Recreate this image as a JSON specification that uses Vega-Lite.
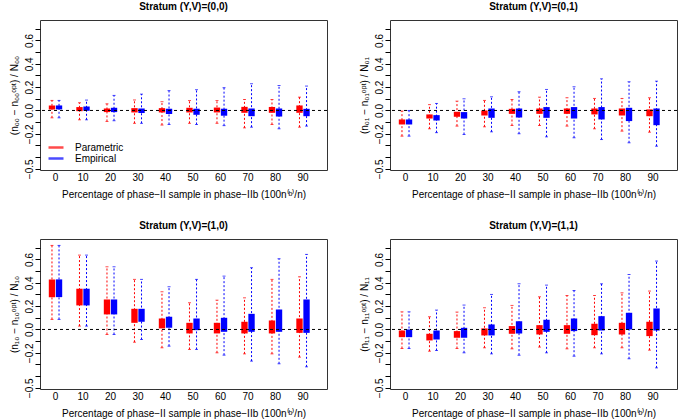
{
"$schema":"https://vega.github.io/schema/vega-lite/v6.json",
"padding":{"left":8,"top":1,"right":0,"bottom":0},
"config":{"font":"Liberation Sans","view":{"stroke":"#333","strokeWidth":1},
 "axis":{"grid":false,"labelColor":"black","titleColor":"black","labelFontSize":10,"titleFontSize":10,"titleFontWeight":"normal","tickColor":"black","domain":false},
 "axisX":{"labelAngle":0,"ticks":false,"labelPadding":2,"titlePadding":7,"labelBaseline":"top"},
 "title":{"fontSize":10,"fontWeight":"bold","offset":8,"color":"black"},
 "legend":{"labelFontSize":10,"labelColor":"black"}},
"resolve":{"scale":{"color":"independent"},"legend":{"color":"independent"}},
"datasets":{"box":[
{"p":"00","pct":0,"method":"Parametric","lo":-0.063,"q1":0.009,"q3":0.043,"hi":0.086},
{"p":"00","pct":0,"method":"Empirical","lo":-0.063,"q1":0.009,"q3":0.043,"hi":0.086},
{"p":"00","pct":10,"method":"Parametric","lo":-0.08,"q1":-0.006,"q3":0.029,"hi":0.066},
{"p":"00","pct":10,"method":"Empirical","lo":-0.08,"q1":-0.003,"q3":0.034,"hi":0.089},
{"p":"00","pct":20,"method":"Parametric","lo":-0.094,"q1":-0.014,"q3":0.017,"hi":0.057},
{"p":"00","pct":20,"method":"Empirical","lo":-0.088,"q1":-0.014,"q3":0.023,"hi":0.129},
{"p":"00","pct":30,"method":"Parametric","lo":-0.11,"q1":-0.017,"q3":0.02,"hi":0.09},
{"p":"00","pct":30,"method":"Empirical","lo":-0.11,"q1":-0.022,"q3":0.017,"hi":0.14},
{"p":"00","pct":40,"method":"Parametric","lo":-0.125,"q1":-0.017,"q3":0.02,"hi":0.075},
{"p":"00","pct":40,"method":"Empirical","lo":-0.12,"q1":-0.03,"q3":0.015,"hi":0.17},
{"p":"00","pct":50,"method":"Parametric","lo":-0.11,"q1":-0.017,"q3":0.023,"hi":0.085},
{"p":"00","pct":50,"method":"Empirical","lo":-0.12,"q1":-0.037,"q3":0.015,"hi":0.178},
{"p":"00","pct":60,"method":"Parametric","lo":-0.11,"q1":-0.017,"q3":0.025,"hi":0.085},
{"p":"00","pct":60,"method":"Empirical","lo":-0.13,"q1":-0.045,"q3":0.015,"hi":0.195},
{"p":"00","pct":70,"method":"Parametric","lo":-0.149,"q1":-0.02,"q3":0.031,"hi":0.094},
{"p":"00","pct":70,"method":"Empirical","lo":-0.143,"q1":-0.049,"q3":0.017,"hi":0.229},
{"p":"00","pct":80,"method":"Parametric","lo":-0.12,"q1":-0.02,"q3":0.03,"hi":0.094},
{"p":"00","pct":80,"method":"Empirical","lo":-0.157,"q1":-0.052,"q3":0.017,"hi":0.214},
{"p":"00","pct":90,"method":"Parametric","lo":-0.143,"q1":-0.02,"q3":0.043,"hi":0.114},
{"p":"00","pct":90,"method":"Empirical","lo":-0.134,"q1":-0.049,"q3":0.014,"hi":0.209},
{"p":"01","pct":0,"method":"Parametric","lo":-0.22,"q1":-0.12,"q3":-0.077,"hi":-0.005},
{"p":"01","pct":0,"method":"Empirical","lo":-0.22,"q1":-0.12,"q3":-0.077,"hi":0},
{"p":"01","pct":10,"method":"Parametric","lo":-0.157,"q1":-0.069,"q3":-0.034,"hi":0.05},
{"p":"01","pct":10,"method":"Empirical","lo":-0.19,"q1":-0.086,"q3":-0.04,"hi":0.06},
{"p":"01","pct":20,"method":"Parametric","lo":-0.134,"q1":-0.054,"q3":-0.011,"hi":0.08},
{"p":"01","pct":20,"method":"Empirical","lo":-0.206,"q1":-0.069,"q3":-0.014,"hi":0.1},
{"p":"01","pct":30,"method":"Parametric","lo":-0.14,"q1":-0.043,"q3":0,"hi":0.086},
{"p":"01","pct":30,"method":"Empirical","lo":-0.183,"q1":-0.063,"q3":0.017,"hi":0.117},
{"p":"01","pct":40,"method":"Parametric","lo":-0.129,"q1":-0.029,"q3":0.014,"hi":0.094},
{"p":"01","pct":40,"method":"Empirical","lo":-0.2,"q1":-0.06,"q3":0.017,"hi":0.16},
{"p":"01","pct":50,"method":"Parametric","lo":-0.129,"q1":-0.029,"q3":0.017,"hi":0.114},
{"p":"01","pct":50,"method":"Empirical","lo":-0.226,"q1":-0.063,"q3":0.029,"hi":0.18},
{"p":"01","pct":60,"method":"Parametric","lo":-0.134,"q1":-0.029,"q3":0.017,"hi":0.109},
{"p":"01","pct":60,"method":"Empirical","lo":-0.234,"q1":-0.069,"q3":0.029,"hi":0.203},
{"p":"01","pct":70,"method":"Parametric","lo":-0.157,"q1":-0.034,"q3":0.017,"hi":0.103},
{"p":"01","pct":70,"method":"Empirical","lo":-0.249,"q1":-0.077,"q3":0.029,"hi":0.271},
{"p":"01","pct":80,"method":"Parametric","lo":-0.177,"q1":-0.043,"q3":0.017,"hi":0.103},
{"p":"01","pct":80,"method":"Empirical","lo":-0.277,"q1":-0.091,"q3":0.023,"hi":0.246},
{"p":"01","pct":90,"method":"Parametric","lo":-0.186,"q1":-0.049,"q3":0.009,"hi":0.109},
{"p":"01","pct":90,"method":"Empirical","lo":-0.306,"q1":-0.126,"q3":0.017,"hi":0.251},
{"p":"10","pct":0,"method":"Parametric","lo":0.086,"q1":0.277,"q3":0.429,"hi":0.72},
{"p":"10","pct":0,"method":"Empirical","lo":0.086,"q1":0.277,"q3":0.429,"hi":0.72},
{"p":"10","pct":10,"method":"Parametric","lo":0.029,"q1":0.206,"q3":0.349,"hi":0.637},
{"p":"10","pct":10,"method":"Empirical","lo":0.029,"q1":0.206,"q3":0.349,"hi":0.637},
{"p":"10","pct":20,"method":"Parametric","lo":-0.043,"q1":0.129,"q3":0.257,"hi":0.537},
{"p":"10","pct":20,"method":"Empirical","lo":-0.043,"q1":0.129,"q3":0.257,"hi":0.537},
{"p":"10","pct":30,"method":"Parametric","lo":-0.109,"q1":0.057,"q3":0.177,"hi":0.429},
{"p":"10","pct":30,"method":"Empirical","lo":-0.086,"q1":0.066,"q3":0.177,"hi":0.429},
{"p":"10","pct":40,"method":"Parametric","lo":-0.157,"q1":0.009,"q3":0.094,"hi":0.323},
{"p":"10","pct":40,"method":"Empirical","lo":-0.143,"q1":0.014,"q3":0.109,"hi":0.366},
{"p":"10","pct":50,"method":"Parametric","lo":-0.171,"q1":-0.034,"q3":0.057,"hi":0.229},
{"p":"10","pct":50,"method":"Empirical","lo":-0.171,"q1":-0.006,"q3":0.094,"hi":0.429},
{"p":"10","pct":60,"method":"Parametric","lo":-0.2,"q1":-0.034,"q3":0.057,"hi":0.251},
{"p":"10","pct":60,"method":"Empirical","lo":-0.22,"q1":-0.02,"q3":0.1,"hi":0.457},
{"p":"10","pct":70,"method":"Parametric","lo":-0.209,"q1":-0.034,"q3":0.066,"hi":0.271},
{"p":"10","pct":70,"method":"Empirical","lo":-0.271,"q1":-0.02,"q3":0.134,"hi":0.529},
{"p":"10","pct":80,"method":"Parametric","lo":-0.209,"q1":-0.034,"q3":0.077,"hi":0.429},
{"p":"10","pct":80,"method":"Empirical","lo":-0.294,"q1":-0.02,"q3":0.171,"hi":0.606},
{"p":"10","pct":90,"method":"Parametric","lo":-0.237,"q1":-0.029,"q3":0.094,"hi":0.451},
{"p":"10","pct":90,"method":"Empirical","lo":-0.32,"q1":-0.029,"q3":0.257,"hi":0.643},
{"p":"11","pct":0,"method":"Parametric","lo":-0.163,"q1":-0.066,"q3":-0.009,"hi":0.151},
{"p":"11","pct":0,"method":"Empirical","lo":-0.163,"q1":-0.066,"q3":0,"hi":0.151},
{"p":"11","pct":10,"method":"Parametric","lo":-0.186,"q1":-0.094,"q3":-0.037,"hi":0.109},
{"p":"11","pct":10,"method":"Empirical","lo":-0.18,"q1":-0.086,"q3":-0.009,"hi":0.166},
{"p":"11","pct":20,"method":"Parametric","lo":-0.163,"q1":-0.071,"q3":-0.014,"hi":0.149},
{"p":"11","pct":20,"method":"Empirical","lo":-0.2,"q1":-0.071,"q3":0.014,"hi":0.209},
{"p":"11","pct":30,"method":"Parametric","lo":-0.157,"q1":-0.051,"q3":0.009,"hi":0.186},
{"p":"11","pct":30,"method":"Empirical","lo":-0.209,"q1":-0.051,"q3":0.043,"hi":0.3},
{"p":"11","pct":40,"method":"Parametric","lo":-0.166,"q1":-0.037,"q3":0.029,"hi":0.206},
{"p":"11","pct":40,"method":"Empirical","lo":-0.22,"q1":-0.034,"q3":0.071,"hi":0.391},
{"p":"11","pct":50,"method":"Parametric","lo":-0.151,"q1":-0.043,"q3":0.037,"hi":0.28},
{"p":"11","pct":50,"method":"Empirical","lo":-0.2,"q1":-0.02,"q3":0.083,"hi":0.38},
{"p":"11","pct":60,"method":"Parametric","lo":-0.166,"q1":-0.037,"q3":0.037,"hi":0.291},
{"p":"11","pct":60,"method":"Empirical","lo":-0.229,"q1":-0.014,"q3":0.094,"hi":0.334},
{"p":"11","pct":70,"method":"Parametric","lo":-0.157,"q1":-0.049,"q3":0.049,"hi":0.291},
{"p":"11","pct":70,"method":"Empirical","lo":-0.209,"q1":-0.009,"q3":0.114,"hi":0.391},
{"p":"11","pct":80,"method":"Parametric","lo":-0.157,"q1":-0.043,"q3":0.057,"hi":0.314},
{"p":"11","pct":80,"method":"Empirical","lo":-0.251,"q1":0,"q3":0.143,"hi":0.471},
{"p":"11","pct":90,"method":"Parametric","lo":-0.177,"q1":-0.057,"q3":0.066,"hi":0.329},
{"p":"11","pct":90,"method":"Empirical","lo":-0.329,"q1":-0.009,"q3":0.18,"hi":0.586}
]},
"columns":2,
"spacing":{"row":69,"column":63},
"bounds":"flush",
"concat":[
{"width":287,"height":150,"title":"Stratum (Y,V)=(0,0)","data":{"name":"box"},"transform":[{"filter":"datum.p=='00'"}],
 "layer":[
 {"mark":{"type":"rule","strokeDash":[2,2],"strokeWidth":1},"encoding":{
  "x":{"field":"pct","type":"ordinal","title":"Percentage of phase−II sample in phase−IIb (100n⁽ᵇ⁾/n)","scale":{"paddingInner":0,"paddingOuter":0.218,"align":0.146}},
  "xOffset":{"field":"method","type":"nominal","sort":["Parametric","Empirical"],"scale":{"paddingInner":0.1,"paddingOuter":1.0}},
  "color":{"field":"method","type":"nominal","scale":{"domain":["Parametric","Empirical"],"range":["#ff0000","#0000ff"]},"legend":{"title":null,"orient":"none","legendX":7,"legendY":122,"symbolType":"stroke","symbolSize":225,"symbolStrokeWidth":2.5,"labelOffset":10,"rowPadding":0,"clipHeight":11}},
  "y":{"field":"lo","type":"quantitative","title":"(n₀₀ − n₀₀ᵒᵖᵗ) / N₀₀","scale":{"domain":[-0.51,0.775],"nice":false,"zero":false},
   "axis":{"values":[-0.5,-0.4,-0.3,-0.2,-0.1,0,0.1,0.2,0.3,0.4,0.5,0.6,0.7],"labelExpr":"indexof([-5,-2,0,2,4,6], round(datum.value*10)) >= 0 ? datum.label : ''","format":".1f","labelAngle":270,"labelAlign":"center","labelBaseline":"alphabetic","tickSize":5,"labelPadding":3,"titlePadding":5,"labelOverlap":false,"labelBound":false,"labelFlush":false}},"y2":{"field":"hi"}}},
 {"mark":{"type":"bar"},"encoding":{
  "x":{"field":"pct","type":"ordinal"},"xOffset":{"field":"method","type":"nominal","sort":["Parametric","Empirical"]},"color":{"field":"method","type":"nominal"},
  "y":{"field":"q1","type":"quantitative","title":"(n₀₀ − n₀₀ᵒᵖᵗ) / N₀₀",
   "axis":{"values":[-0.5,-0.4,-0.3,-0.2,-0.1,0,0.1,0.2,0.3,0.4,0.5,0.6,0.7],"labelExpr":"indexof([-5,-2,0,2,4,6], round(datum.value*10)) >= 0 ? datum.label : ''","format":".1f","labelAngle":270,"labelAlign":"center","labelBaseline":"alphabetic","tickSize":5,"labelPadding":3,"titlePadding":5,"labelOverlap":false,"labelBound":false,"labelFlush":false}},"y2":{"field":"q3"}}},
 {"mark":{"type":"tick","size":3,"thickness":1},"encoding":{
  "x":{"field":"pct","type":"ordinal"},"xOffset":{"field":"method","type":"nominal","sort":["Parametric","Empirical"]},"color":{"field":"method","type":"nominal"},
  "y":{"field":"hi","type":"quantitative","title":"(n₀₀ − n₀₀ᵒᵖᵗ) / N₀₀",
   "axis":{"values":[-0.5,-0.4,-0.3,-0.2,-0.1,0,0.1,0.2,0.3,0.4,0.5,0.6,0.7],"labelExpr":"indexof([-5,-2,0,2,4,6], round(datum.value*10)) >= 0 ? datum.label : ''","format":".1f","labelAngle":270,"labelAlign":"center","labelBaseline":"alphabetic","tickSize":5,"labelPadding":3,"titlePadding":5,"labelOverlap":false,"labelBound":false,"labelFlush":false}}}},
 {"mark":{"type":"tick","size":3,"thickness":1},"encoding":{
  "x":{"field":"pct","type":"ordinal"},"xOffset":{"field":"method","type":"nominal","sort":["Parametric","Empirical"]},"color":{"field":"method","type":"nominal"},
  "y":{"field":"lo","type":"quantitative","title":"(n₀₀ − n₀₀ᵒᵖᵗ) / N₀₀",
   "axis":{"values":[-0.5,-0.4,-0.3,-0.2,-0.1,0,0.1,0.2,0.3,0.4,0.5,0.6,0.7],"labelExpr":"indexof([-5,-2,0,2,4,6], round(datum.value*10)) >= 0 ? datum.label : ''","format":".1f","labelAngle":270,"labelAlign":"center","labelBaseline":"alphabetic","tickSize":5,"labelPadding":3,"titlePadding":5,"labelOverlap":false,"labelBound":false,"labelFlush":false}}}},
 {"data":{"values":[{"ref":0}]},"mark":{"type":"rule","strokeDash":[3,3],"color":"black","strokeWidth":1},"encoding":{"y":{"field":"ref","type":"quantitative","title":"(n₀₀ − n₀₀ᵒᵖᵗ) / N₀₀",
   "axis":{"values":[-0.5,-0.4,-0.3,-0.2,-0.1,0,0.1,0.2,0.3,0.4,0.5,0.6,0.7],"labelExpr":"indexof([-5,-2,0,2,4,6], round(datum.value*10)) >= 0 ? datum.label : ''","format":".1f","labelAngle":270,"labelAlign":"center","labelBaseline":"alphabetic","tickSize":5,"labelPadding":3,"titlePadding":5,"labelOverlap":false,"labelBound":false,"labelFlush":false}}}}
 ]},
{"width":287,"height":150,"title":"Stratum (Y,V)=(0,1)","data":{"name":"box"},"transform":[{"filter":"datum.p=='01'"}],
 "layer":[
 {"mark":{"type":"rule","strokeDash":[2,2],"strokeWidth":1},"encoding":{
  "x":{"field":"pct","type":"ordinal","title":"Percentage of phase−II sample in phase−IIb (100n⁽ᵇ⁾/n)","scale":{"paddingInner":0,"paddingOuter":0.218,"align":0.146}},
  "xOffset":{"field":"method","type":"nominal","sort":["Parametric","Empirical"],"scale":{"paddingInner":0.1,"paddingOuter":1.0}},
  "color":{"field":"method","type":"nominal","scale":{"domain":["Parametric","Empirical"],"range":["#ff0000","#0000ff"]},"legend":null},
  "y":{"field":"lo","type":"quantitative","title":"(n₀₁ − n₀₁ᵒᵖᵗ) / N₀₁","scale":{"domain":[-0.51,0.775],"nice":false,"zero":false},
   "axis":{"values":[-0.5,-0.4,-0.3,-0.2,-0.1,0,0.1,0.2,0.3,0.4,0.5,0.6,0.7],"labelExpr":"indexof([-5,-2,0,2,4,6], round(datum.value*10)) >= 0 ? datum.label : ''","format":".1f","labelAngle":270,"labelAlign":"center","labelBaseline":"alphabetic","tickSize":5,"labelPadding":3,"titlePadding":5,"labelOverlap":false,"labelBound":false,"labelFlush":false}},"y2":{"field":"hi"}}},
 {"mark":{"type":"bar"},"encoding":{
  "x":{"field":"pct","type":"ordinal"},"xOffset":{"field":"method","type":"nominal","sort":["Parametric","Empirical"]},"color":{"field":"method","type":"nominal","legend":null},
  "y":{"field":"q1","type":"quantitative","title":"(n₀₁ − n₀₁ᵒᵖᵗ) / N₀₁",
   "axis":{"values":[-0.5,-0.4,-0.3,-0.2,-0.1,0,0.1,0.2,0.3,0.4,0.5,0.6,0.7],"labelExpr":"indexof([-5,-2,0,2,4,6], round(datum.value*10)) >= 0 ? datum.label : ''","format":".1f","labelAngle":270,"labelAlign":"center","labelBaseline":"alphabetic","tickSize":5,"labelPadding":3,"titlePadding":5,"labelOverlap":false,"labelBound":false,"labelFlush":false}},"y2":{"field":"q3"}}},
 {"mark":{"type":"tick","size":3,"thickness":1},"encoding":{
  "x":{"field":"pct","type":"ordinal"},"xOffset":{"field":"method","type":"nominal","sort":["Parametric","Empirical"]},"color":{"field":"method","type":"nominal","legend":null},
  "y":{"field":"hi","type":"quantitative","title":"(n₀₁ − n₀₁ᵒᵖᵗ) / N₀₁",
   "axis":{"values":[-0.5,-0.4,-0.3,-0.2,-0.1,0,0.1,0.2,0.3,0.4,0.5,0.6,0.7],"labelExpr":"indexof([-5,-2,0,2,4,6], round(datum.value*10)) >= 0 ? datum.label : ''","format":".1f","labelAngle":270,"labelAlign":"center","labelBaseline":"alphabetic","tickSize":5,"labelPadding":3,"titlePadding":5,"labelOverlap":false,"labelBound":false,"labelFlush":false}}}},
 {"mark":{"type":"tick","size":3,"thickness":1},"encoding":{
  "x":{"field":"pct","type":"ordinal"},"xOffset":{"field":"method","type":"nominal","sort":["Parametric","Empirical"]},"color":{"field":"method","type":"nominal","legend":null},
  "y":{"field":"lo","type":"quantitative","title":"(n₀₁ − n₀₁ᵒᵖᵗ) / N₀₁",
   "axis":{"values":[-0.5,-0.4,-0.3,-0.2,-0.1,0,0.1,0.2,0.3,0.4,0.5,0.6,0.7],"labelExpr":"indexof([-5,-2,0,2,4,6], round(datum.value*10)) >= 0 ? datum.label : ''","format":".1f","labelAngle":270,"labelAlign":"center","labelBaseline":"alphabetic","tickSize":5,"labelPadding":3,"titlePadding":5,"labelOverlap":false,"labelBound":false,"labelFlush":false}}}},
 {"data":{"values":[{"ref":0}]},"mark":{"type":"rule","strokeDash":[3,3],"color":"black","strokeWidth":1},"encoding":{"y":{"field":"ref","type":"quantitative","title":"(n₀₁ − n₀₁ᵒᵖᵗ) / N₀₁",
   "axis":{"values":[-0.5,-0.4,-0.3,-0.2,-0.1,0,0.1,0.2,0.3,0.4,0.5,0.6,0.7],"labelExpr":"indexof([-5,-2,0,2,4,6], round(datum.value*10)) >= 0 ? datum.label : ''","format":".1f","labelAngle":270,"labelAlign":"center","labelBaseline":"alphabetic","tickSize":5,"labelPadding":3,"titlePadding":5,"labelOverlap":false,"labelBound":false,"labelFlush":false}}}}
 ]},
{"width":287,"height":150,"title":"Stratum (Y,V)=(1,0)","data":{"name":"box"},"transform":[{"filter":"datum.p=='10'"}],
 "layer":[
 {"mark":{"type":"rule","strokeDash":[2,2],"strokeWidth":1},"encoding":{
  "x":{"field":"pct","type":"ordinal","title":"Percentage of phase−II sample in phase−IIb (100n⁽ᵇ⁾/n)","scale":{"paddingInner":0,"paddingOuter":0.218,"align":0.146}},
  "xOffset":{"field":"method","type":"nominal","sort":["Parametric","Empirical"],"scale":{"paddingInner":0.1,"paddingOuter":1.0}},
  "color":{"field":"method","type":"nominal","scale":{"domain":["Parametric","Empirical"],"range":["#ff0000","#0000ff"]},"legend":null},
  "y":{"field":"lo","type":"quantitative","title":"(n₁₀ − n₁₀ᵒᵖᵗ) / N₁₀","scale":{"domain":[-0.51,0.775],"nice":false,"zero":false},
   "axis":{"values":[-0.5,-0.4,-0.3,-0.2,-0.1,0,0.1,0.2,0.3,0.4,0.5,0.6,0.7],"labelExpr":"indexof([-5,-2,0,2,4,6], round(datum.value*10)) >= 0 ? datum.label : ''","format":".1f","labelAngle":270,"labelAlign":"center","labelBaseline":"alphabetic","tickSize":5,"labelPadding":3,"titlePadding":5,"labelOverlap":false,"labelBound":false,"labelFlush":false}},"y2":{"field":"hi"}}},
 {"mark":{"type":"bar"},"encoding":{
  "x":{"field":"pct","type":"ordinal"},"xOffset":{"field":"method","type":"nominal","sort":["Parametric","Empirical"]},"color":{"field":"method","type":"nominal","legend":null},
  "y":{"field":"q1","type":"quantitative","title":"(n₁₀ − n₁₀ᵒᵖᵗ) / N₁₀",
   "axis":{"values":[-0.5,-0.4,-0.3,-0.2,-0.1,0,0.1,0.2,0.3,0.4,0.5,0.6,0.7],"labelExpr":"indexof([-5,-2,0,2,4,6], round(datum.value*10)) >= 0 ? datum.label : ''","format":".1f","labelAngle":270,"labelAlign":"center","labelBaseline":"alphabetic","tickSize":5,"labelPadding":3,"titlePadding":5,"labelOverlap":false,"labelBound":false,"labelFlush":false}},"y2":{"field":"q3"}}},
 {"mark":{"type":"tick","size":3,"thickness":1},"encoding":{
  "x":{"field":"pct","type":"ordinal"},"xOffset":{"field":"method","type":"nominal","sort":["Parametric","Empirical"]},"color":{"field":"method","type":"nominal","legend":null},
  "y":{"field":"hi","type":"quantitative","title":"(n₁₀ − n₁₀ᵒᵖᵗ) / N₁₀",
   "axis":{"values":[-0.5,-0.4,-0.3,-0.2,-0.1,0,0.1,0.2,0.3,0.4,0.5,0.6,0.7],"labelExpr":"indexof([-5,-2,0,2,4,6], round(datum.value*10)) >= 0 ? datum.label : ''","format":".1f","labelAngle":270,"labelAlign":"center","labelBaseline":"alphabetic","tickSize":5,"labelPadding":3,"titlePadding":5,"labelOverlap":false,"labelBound":false,"labelFlush":false}}}},
 {"mark":{"type":"tick","size":3,"thickness":1},"encoding":{
  "x":{"field":"pct","type":"ordinal"},"xOffset":{"field":"method","type":"nominal","sort":["Parametric","Empirical"]},"color":{"field":"method","type":"nominal","legend":null},
  "y":{"field":"lo","type":"quantitative","title":"(n₁₀ − n₁₀ᵒᵖᵗ) / N₁₀",
   "axis":{"values":[-0.5,-0.4,-0.3,-0.2,-0.1,0,0.1,0.2,0.3,0.4,0.5,0.6,0.7],"labelExpr":"indexof([-5,-2,0,2,4,6], round(datum.value*10)) >= 0 ? datum.label : ''","format":".1f","labelAngle":270,"labelAlign":"center","labelBaseline":"alphabetic","tickSize":5,"labelPadding":3,"titlePadding":5,"labelOverlap":false,"labelBound":false,"labelFlush":false}}}},
 {"data":{"values":[{"ref":0}]},"mark":{"type":"rule","strokeDash":[3,3],"color":"black","strokeWidth":1},"encoding":{"y":{"field":"ref","type":"quantitative","title":"(n₁₀ − n₁₀ᵒᵖᵗ) / N₁₀",
   "axis":{"values":[-0.5,-0.4,-0.3,-0.2,-0.1,0,0.1,0.2,0.3,0.4,0.5,0.6,0.7],"labelExpr":"indexof([-5,-2,0,2,4,6], round(datum.value*10)) >= 0 ? datum.label : ''","format":".1f","labelAngle":270,"labelAlign":"center","labelBaseline":"alphabetic","tickSize":5,"labelPadding":3,"titlePadding":5,"labelOverlap":false,"labelBound":false,"labelFlush":false}}}}
 ]},
{"width":287,"height":150,"title":"Stratum (Y,V)=(1,1)","data":{"name":"box"},"transform":[{"filter":"datum.p=='11'"}],
 "layer":[
 {"mark":{"type":"rule","strokeDash":[2,2],"strokeWidth":1},"encoding":{
  "x":{"field":"pct","type":"ordinal","title":"Percentage of phase−II sample in phase−IIb (100n⁽ᵇ⁾/n)","scale":{"paddingInner":0,"paddingOuter":0.218,"align":0.146}},
  "xOffset":{"field":"method","type":"nominal","sort":["Parametric","Empirical"],"scale":{"paddingInner":0.1,"paddingOuter":1.0}},
  "color":{"field":"method","type":"nominal","scale":{"domain":["Parametric","Empirical"],"range":["#ff0000","#0000ff"]},"legend":null},
  "y":{"field":"lo","type":"quantitative","title":"(n₁₁ − n₁₁ᵒᵖᵗ) / N₁₁","scale":{"domain":[-0.51,0.775],"nice":false,"zero":false},
   "axis":{"values":[-0.5,-0.4,-0.3,-0.2,-0.1,0,0.1,0.2,0.3,0.4,0.5,0.6,0.7],"labelExpr":"indexof([-5,-2,0,2,4,6], round(datum.value*10)) >= 0 ? datum.label : ''","format":".1f","labelAngle":270,"labelAlign":"center","labelBaseline":"alphabetic","tickSize":5,"labelPadding":3,"titlePadding":5,"labelOverlap":false,"labelBound":false,"labelFlush":false}},"y2":{"field":"hi"}}},
 {"mark":{"type":"bar"},"encoding":{
  "x":{"field":"pct","type":"ordinal"},"xOffset":{"field":"method","type":"nominal","sort":["Parametric","Empirical"]},"color":{"field":"method","type":"nominal","legend":null},
  "y":{"field":"q1","type":"quantitative","title":"(n₁₁ − n₁₁ᵒᵖᵗ) / N₁₁",
   "axis":{"values":[-0.5,-0.4,-0.3,-0.2,-0.1,0,0.1,0.2,0.3,0.4,0.5,0.6,0.7],"labelExpr":"indexof([-5,-2,0,2,4,6], round(datum.value*10)) >= 0 ? datum.label : ''","format":".1f","labelAngle":270,"labelAlign":"center","labelBaseline":"alphabetic","tickSize":5,"labelPadding":3,"titlePadding":5,"labelOverlap":false,"labelBound":false,"labelFlush":false}},"y2":{"field":"q3"}}},
 {"mark":{"type":"tick","size":3,"thickness":1},"encoding":{
  "x":{"field":"pct","type":"ordinal"},"xOffset":{"field":"method","type":"nominal","sort":["Parametric","Empirical"]},"color":{"field":"method","type":"nominal","legend":null},
  "y":{"field":"hi","type":"quantitative","title":"(n₁₁ − n₁₁ᵒᵖᵗ) / N₁₁",
   "axis":{"values":[-0.5,-0.4,-0.3,-0.2,-0.1,0,0.1,0.2,0.3,0.4,0.5,0.6,0.7],"labelExpr":"indexof([-5,-2,0,2,4,6], round(datum.value*10)) >= 0 ? datum.label : ''","format":".1f","labelAngle":270,"labelAlign":"center","labelBaseline":"alphabetic","tickSize":5,"labelPadding":3,"titlePadding":5,"labelOverlap":false,"labelBound":false,"labelFlush":false}}}},
 {"mark":{"type":"tick","size":3,"thickness":1},"encoding":{
  "x":{"field":"pct","type":"ordinal"},"xOffset":{"field":"method","type":"nominal","sort":["Parametric","Empirical"]},"color":{"field":"method","type":"nominal","legend":null},
  "y":{"field":"lo","type":"quantitative","title":"(n₁₁ − n₁₁ᵒᵖᵗ) / N₁₁",
   "axis":{"values":[-0.5,-0.4,-0.3,-0.2,-0.1,0,0.1,0.2,0.3,0.4,0.5,0.6,0.7],"labelExpr":"indexof([-5,-2,0,2,4,6], round(datum.value*10)) >= 0 ? datum.label : ''","format":".1f","labelAngle":270,"labelAlign":"center","labelBaseline":"alphabetic","tickSize":5,"labelPadding":3,"titlePadding":5,"labelOverlap":false,"labelBound":false,"labelFlush":false}}}},
 {"data":{"values":[{"ref":0}]},"mark":{"type":"rule","strokeDash":[3,3],"color":"black","strokeWidth":1},"encoding":{"y":{"field":"ref","type":"quantitative","title":"(n₁₁ − n₁₁ᵒᵖᵗ) / N₁₁",
   "axis":{"values":[-0.5,-0.4,-0.3,-0.2,-0.1,0,0.1,0.2,0.3,0.4,0.5,0.6,0.7],"labelExpr":"indexof([-5,-2,0,2,4,6], round(datum.value*10)) >= 0 ? datum.label : ''","format":".1f","labelAngle":270,"labelAlign":"center","labelBaseline":"alphabetic","tickSize":5,"labelPadding":3,"titlePadding":5,"labelOverlap":false,"labelBound":false,"labelFlush":false}}}}
 ]}
]
}
